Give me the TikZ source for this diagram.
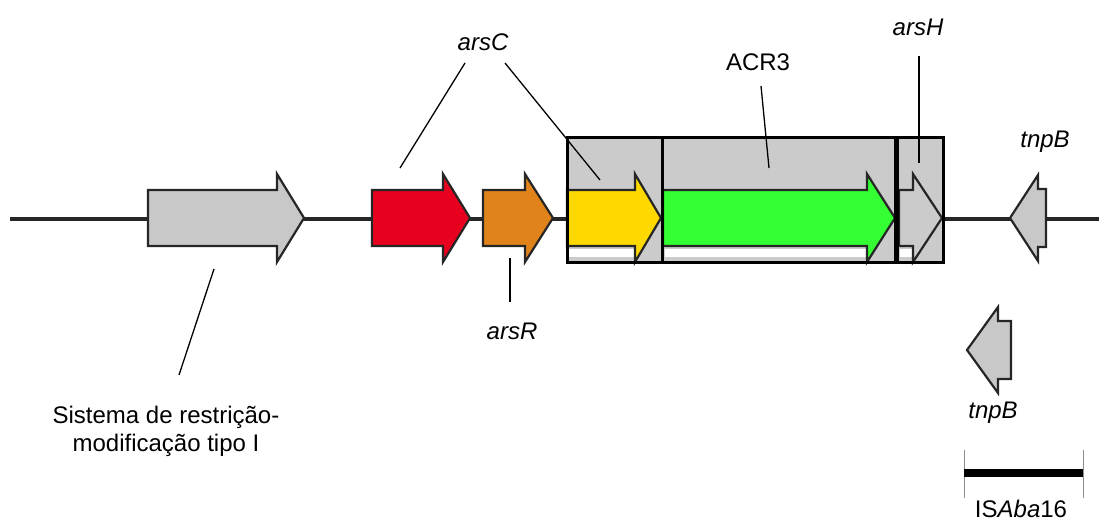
\documentclass[tikz,border=0pt]{standalone}
\usepackage{fontspec}
\setmainfont{Liberation Sans}
\definecolor{genegrey}{HTML}{C8C8C8}
\definecolor{cellgrey}{HTML}{CBCBCB}
\definecolor{genered}{HTML}{E8001F}
\definecolor{geneorange}{HTML}{E0831A}
\definecolor{geneyellow}{HTML}{FFD800}
\definecolor{genegreen}{HTML}{33FF33}
% forward gene arrow: style, left x, head base x, tip x
\newcommand\genefwd[4]{%
  \draw[#1] (#2,190) -- (#3,190) -- (#3,174) -- (#4,218) -- (#3,262)
    -- (#3,246) -- (#2,246) -- cycle;}
% reverse gene arrow: style, tip x, head base x, right x, centre y
\newcommand\generev[5]{%
  \draw[#1] (#2,#5) -- (#3,#5-43) -- (#3,#5-29) -- (#4,#5-29)
    -- (#4,#5+29) -- (#3,#5+29) -- (#3,#5+43) -- cycle;}
\begin{document}
\begin{tikzpicture}[x=1pt,y=-1pt,
  lbl/.style={font=\fontsize{24}{28}\selectfont, inner sep=0pt, text=black},
  gene/.style={draw=black!85, line width=2.2pt, line join=miter},
  leader/.style={draw=black, line width=1.3pt},
  cell/.style={fill=cellgrey},
  cellline/.style={draw=black, line width=3pt}]
\useasboundingbox (0,0) rectangle (1099,521);

% backbone
\coordinate (bbL) at (10,219);
\coordinate (bbR) at (1099,219);
\draw[black!85, line width=4pt] (bbL) -- (bbR);

% cluster box with its three cells
\fill[cell] (567,138) rectangle (943,262);
\fill[white] (569,249) rectangle (635,257);
\fill[white] (665,249) rectangle (867,257);
\fill[white] (900,249) rectangle (913,257);

% genes
\genefwd{gene, fill=genegrey}{148}{277}{304}
\genefwd{gene, fill=genered}{372}{443}{470}
\genefwd{gene, fill=geneorange}{483}{525}{553}
\genefwd{gene, fill=geneyellow}{567}{635}{661}
\genefwd{gene, fill=genegreen}{663}{867}{895}
\genefwd{gene, fill=cellgrey}{899}{913}{942}
\generev{gene, fill=genegrey}{1010}{1038}{1046}{218}
\generev{gene, fill=genegrey}{967}{998}{1011}{350}

% cell borders
\draw[cellline] (567,138) rectangle (943,262);
\draw[cellline] (662,138) -- (662,262);
\draw[black, line width=5pt] (896.5,138) -- (896.5,262);

% labels
\node[lbl] (lC) at (483,42) {\itshape arsC};
\node[lbl] (lACR) at (758,62) {ACR3};
\node[lbl] (lH) at (918,27) {\itshape arsH};
\node[lbl] (lR) at (512,331) {\itshape arsR};
\node[lbl] (lT1) at (1045,142) {\itshape tnpB};
\node[lbl] (lT2) at (993,413) {\itshape tnpB};
\node[lbl, align=center] (lRM) at (166,431) {Sistema de restrição-\\modificação tipo I};
\node[lbl] (lIS) at (1021,509) {IS\textit{Aba}16};

% leader lines
\coordinate (c1a) at (465,63);  \coordinate (c1b) at (400,168);
\coordinate (c2a) at (505,63);  \coordinate (c2b) at (600,180);
\coordinate (acra) at (761,86); \coordinate (acrb) at (769,168);
\coordinate (ha) at (919,56);   \coordinate (hb) at (919,163);
\coordinate (ra) at (510,258);  \coordinate (rb) at (510,302);
\coordinate (rma) at (214,269); \coordinate (rmb) at (179,375);
\draw[leader] (c1a) -- (c1b);
\draw[leader] (c2a) -- (c2b);
\draw[leader] (acra) -- (acrb);
\draw[leader] (ha) -- (hb);
\draw[leader] (ra) -- (rb);
\draw[leader] (rma) -- (rmb);

% scale bar
\coordinate (sbL) at (964,473);
\coordinate (sbR) at (1083,473);
\draw[black!45, line width=1pt] (964,450) -- (964,498);
\draw[black!45, line width=1pt] (1083,450) -- (1083,498);
\draw[black, line width=8pt] (sbL) -- (sbR);
\end{tikzpicture}
\end{document}
